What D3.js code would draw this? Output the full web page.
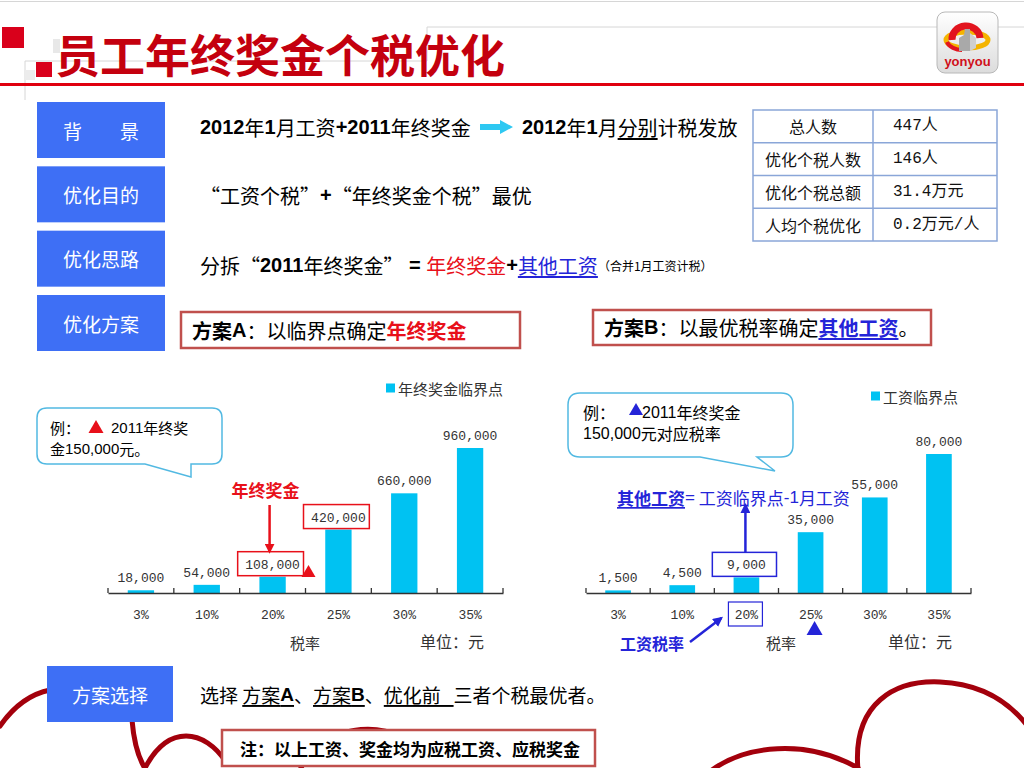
<!DOCTYPE html>
<html><head><meta charset="utf-8">
<script src="https://cdn.jsdelivr.net/npm/d3@7"></script>
<style>
html,body{margin:0;padding:0;background:#fff;overflow:hidden;}
svg{display:block;font-family:"Noto Sans CJK SC","Noto Sans",sans-serif;}
</style></head><body>
<div id="slide"></div>
<script>
// ---- data ----
const rateLabels   = ["3%", "10%", "20%", "25%", "30%", "35%"];
const bonusPoints  = [18000, 54000, 108000, 420000, 660000, 960000];
const salaryPoints = [1500, 4500, 9000, 35000, 55000, 80000];
const sideLabels   = ["背　　景", "优化目的", "优化思路", "优化方案"];
const tableLabels  = ["总人数", "优化个税人数", "优化个税总额", "人均个税优化"];
const tableValues  = ["447人", "146人", "31.4万元", "0.2万元/人"];

const W = 1024, H = 768;
const BLUE_BOX = "#3e6ff5";
const CYAN = "#00c2f2";
const RED = "#e8101a";
const INK_BLUE = "#2424d8";
const BOX_RED = "#c0504d";
const DARK_RED = "#a3000c";
const MONO = "'Liberation Mono', 'Noto Sans CJK SC', monospace";
const SANS = "'Liberation Sans', 'Noto Sans CJK SC', sans-serif";

const svg = d3.select("#slide").append("svg")
  .attr("width", W).attr("height", H);
const defs = svg.append("defs");

function marker(id, color) {
  defs.append("marker").attr("id", id)
    .attr("viewBox", "0 0 10 10").attr("refX", 8).attr("refY", 5)
    .attr("markerWidth", 4).attr("markerHeight", 4).attr("orient", "auto")
    .append("path").attr("d", "M0,0 L10,5 L0,10 Z").attr("fill", color);
}
marker("arrRed", RED);
marker("arrBlue", INK_BLUE);

function rich(x, y, parts, size, extra) {
  const t = svg.append("text").attr("x", x).attr("y", y)
    .attr("font-size", size).attr("dominant-baseline", "central")
    .style("white-space", "pre");
  if (extra) extra(t);
  parts.forEach(p => {
    const s = t.append("tspan").text(p.t);
    if (p.c) s.attr("fill", p.c);
    if (p.b) s.attr("font-weight", "bold");
    if (p.u) s.style("text-decoration", "underline");
    if (p.f) s.attr("font-family", p.f);
    if (p.s) s.attr("font-size", p.s);
  });
  return t;
}

// ---- decorative curves at the bottom ----
const curves = [
  "M0,726 C14,706 30,694 50,690",
  "M132,720 C134,744 138,758 146,770",
  "M144,770 C168,722 205,730 226,762",
  "M300,770 C322,722 385,722 410,742",
  "M712,770 C745,746 805,738 858,768",
  "M858,770 C852,702 896,680 940,682 C984,684 1010,704 1026,724"
];
svg.selectAll("path.deco").data(curves).join("path")
  .attr("class", "deco").attr("d", d => d)
  .attr("fill", "none").attr("stroke", DARK_RED).attr("stroke-width", 5)
  .attr("stroke-linecap", "round");

// ---- header ----
const faint = [[0, 1.5, W, 1.5], [427, 27, W, 27], [427, 27, 427, 61], [25, 61, 427, 61], [25, 61, 25, 100]];
svg.selectAll("line.faint").data(faint).join("line")
  .attr("x1", d => d[0]).attr("y1", d => d[1]).attr("x2", d => d[2]).attr("y2", d => d[3])
  .attr("stroke", "#d6d6d6").attr("stroke-width", 1);

svg.append("rect").attr("x", 53).attr("y", 39).attr("width", 7).attr("height", 14).attr("fill", "#e8e8e8");
svg.append("rect").attr("x", 25).attr("y", 70).attr("width", 10).attr("height", 10).attr("fill", "#ececec");
svg.append("rect").attr("x", 2).attr("y", 27).attr("width", 22).attr("height", 21).attr("fill", "#d9001b");
svg.append("rect").attr("x", 36).attr("y", 62).attr("width", 16).attr("height", 15).attr("fill", "#d9001b");

svg.append("text").attr("x", 55).attr("y", 73)
  .attr("font-size", 45).attr("font-weight", "bold").attr("fill", "#c4000e")
  .text("员工年终奖金个税优化");

svg.append("line").attr("x1", 0).attr("x2", W).attr("y1", 84.5).attr("y2", 84.5)
  .attr("stroke", "#e0000f").attr("stroke-width", 3);

// logo
const lg = defs.append("linearGradient").attr("id", "logoGrad")
  .attr("x1", "0%").attr("x2", "0%").attr("y1", "0%").attr("y2", "100%");
lg.append("stop").attr("offset", "0%").attr("stop-color", "#ffffff");
lg.append("stop").attr("offset", "100%").attr("stop-color", "#dcdcdc");
const logo = svg.append("g");
logo.append("rect").attr("x", 937).attr("y", 12).attr("width", 61).attr("height", 61).attr("rx", 8)
  .attr("fill", "url(#logoGrad)").attr("stroke", "#b8b8b8");
logo.append("ellipse").attr("cx", 967).attr("cy", 40).attr("rx", 21).attr("ry", 8)
  .attr("fill", "none").attr("stroke", "#f4b400").attr("stroke-width", 5);
logo.append("path").attr("d", "M952,40 A14,13 0 0 1 980,38")
  .attr("fill", "none").attr("stroke", "#e2141e").attr("stroke-width", 7);
logo.append("path").attr("d", "M947,42 C949,47 956,50 962,50")
  .attr("fill", "none").attr("stroke", "#e2141e").attr("stroke-width", 4);
logo.append("path").attr("d", "M959,51 L959,38 L964,35 L965,29 L970,29 L970,51 Z").attr("fill", "#a9a9a9");
logo.append("path").attr("d", "M970,51 L970,33 L976,38 L976,48 Z").attr("fill", "#cfcfcf");
logo.append("text").attr("x", 967.5).attr("y", 66).attr("text-anchor", "middle")
  .attr("font-family", SANS).attr("font-weight", "bold").attr("font-size", 13)
  .attr("fill", "#d0101a").text("yonyou");

// ---- side boxes ----
const sideY = d3.scaleLinear().domain([0, 3]).range([102, 295]);
const side = svg.selectAll("g.side").data(sideLabels).join("g")
  .attr("transform", (d, i) => `translate(37,${sideY(i)})`);
side.append("rect").attr("width", 128).attr("height", 56).attr("fill", BLUE_BOX);
side.append("text").attr("x", 64).attr("y", 28).attr("text-anchor", "middle")
  .attr("dominant-baseline", "central").attr("font-size", 19).attr("fill", "#fff")
  .style("white-space", "pre").text(d => d);

// ---- row texts ----
rich(200, 127, [
  { t: "2012", b: 1, f: SANS }, { t: "年" }, { t: "1", b: 1, f: SANS }, { t: "月工资" },
  { t: "+2011", b: 1, f: SANS }, { t: "年终奖金" }
], 20);
svg.append("path").attr("d", "M480,124 H500 V120 L513,127 L500,134 V130 H480 Z").attr("fill", "#2ec8f2");
rich(522, 127, [
  { t: "2012", b: 1, f: SANS }, { t: "年" }, { t: "1", b: 1, f: SANS }, { t: "月" },
  { t: "分别", u: 1 }, { t: "计税发放" }
], 20);

rich(200, 195, [
  { t: "“工资个税”" }, { t: "+", b: 1, f: SANS }, { t: "“年终奖金个税”最优" }
], 20);

rich(200, 265, [
  { t: "分拆“" }, { t: "2011", b: 1, f: SANS }, { t: "年终奖金”" },
  { t: " = ", b: 1, f: SANS }, { t: "年终奖金", c: RED }, { t: "+", b: 1, f: SANS },
  { t: "其他工资", c: INK_BLUE, u: 1 }, { t: "（合并1月工资计税）", s: 12 }
], 20);

// plan boxes
svg.append("rect").attr("x", 181).attr("y", 312).attr("width", 339).attr("height", 36)
  .attr("fill", "#fff").attr("stroke", BOX_RED).attr("stroke-width", 2.5);
rich(192, 330, [
  { t: "方案", b: 1 }, { t: "A", b: 1, f: SANS }, { t: "：以临界点确定" }, { t: "年终奖金", b: 1, c: RED }
], 20);
svg.append("rect").attr("x", 593).attr("y", 310).attr("width", 338).attr("height", 35)
  .attr("fill", "#fff").attr("stroke", BOX_RED).attr("stroke-width", 2.5);
rich(604, 327, [
  { t: "方案", b: 1 }, { t: "B", b: 1, f: SANS }, { t: "：以最优税率确定" },
  { t: "其他工资", b: 1, c: INK_BLUE, u: 1 }, { t: "。" }
], 20);

// ---- summary table ----
const rowY = d3.scaleLinear().domain([0, 4]).range([110, 241]);
const tbl = svg.append("g");
tbl.append("rect").attr("x", 753).attr("y", 110).attr("width", 244).attr("height", 131)
  .attr("fill", "#fff").attr("stroke", "#8aa6d8").attr("stroke-width", 1.5);
tbl.selectAll("line.row").data([1, 2, 3]).join("line")
  .attr("x1", 753).attr("x2", 997).attr("y1", d => rowY(d)).attr("y2", d => rowY(d))
  .attr("stroke", "#8aa6d8").attr("stroke-width", 1.5);
tbl.append("line").attr("x1", 873).attr("x2", 873).attr("y1", 110).attr("y2", 241)
  .attr("stroke", "#8aa6d8").attr("stroke-width", 1.5);
tbl.selectAll("text.lab").data(tableLabels).join("text")
  .attr("x", 813).attr("y", (d, i) => (rowY(i) + rowY(i + 1)) / 2)
  .attr("text-anchor", "middle").attr("dominant-baseline", "central")
  .attr("font-size", 16).attr("fill", "#111").text(d => d);
tbl.selectAll("text.val").data(tableValues).join("text")
  .attr("x", 893).attr("y", (d, i) => (rowY(i) + rowY(i + 1)) / 2)
  .attr("dominant-baseline", "central").attr("font-family", MONO)
  .attr("font-size", 16).attr("fill", "#111").text(d => d);

// ---- bar charts ----
const fmt = d3.format(",");
function barChart(opt) {
  const g = svg.append("g");
  const x = d3.scaleBand().domain(rateLabels).range([opt.x0, opt.x1]);
  const y = d3.scaleLinear().domain([0, opt.max]).range([opt.base, opt.top]);
  const bw = x.bandwidth(), barW = bw * 0.4;

  g.selectAll("rect.bar").data(opt.values).join("rect")
    .attr("x", (d, i) => x(rateLabels[i]) + (bw - barW) / 2)
    .attr("y", d => y(d)).attr("width", barW)
    .attr("height", d => opt.base - y(d)).attr("fill", CYAN);

  const ag = g.append("g").attr("transform", `translate(0,${opt.base})`)
    .call(d3.axisBottom(x).tickSize(0).tickSizeOuter(0).tickPadding(17));
  ag.select(".domain").attr("stroke", "#333").attr("stroke-width", 1.5);
  ag.selectAll("text").attr("font-family", MONO).attr("font-size", 13).attr("fill", "#333");

  const bounds = rateLabels.map(r => x(r)).concat([opt.x1]);
  g.selectAll("line.tk").data(bounds).join("line")
    .attr("x1", d => d).attr("x2", d => d)
    .attr("y1", opt.base - 5).attr("y2", opt.base)
    .attr("stroke", "#333").attr("stroke-width", 1.3);

  g.selectAll("text.val").data(opt.values).join("text")
    .attr("x", (d, i) => x(rateLabels[i]) + bw / 2)
    .attr("y", d => y(d) - 8).attr("text-anchor", "middle")
    .attr("font-family", MONO).attr("font-size", 13).attr("fill", "#333")
    .text(d => fmt(d));

  opt.boxed.forEach(i => {
    g.append("rect").attr("x", x(rateLabels[i]) - 2).attr("y", y(opt.values[i]) - 25)
      .attr("width", bw).attr("height", 24)
      .attr("fill", "none").attr("stroke", opt.boxColor).attr("stroke-width", 1.5);
  });

  g.append("rect").attr("x", opt.legendX).attr("y", opt.legendY - 4.5)
    .attr("width", 9).attr("height", 9).attr("fill", CYAN);
  g.append("text").attr("x", opt.legendX + 12).attr("y", opt.legendY)
    .attr("dominant-baseline", "central").attr("font-size", 15).attr("fill", "#333")
    .text(opt.legend);

  g.append("text").attr("x", opt.axisTitleX).attr("y", 642).attr("text-anchor", "middle")
    .attr("dominant-baseline", "central").attr("font-size", 15).attr("fill", "#333").text("税率");
  g.append("text").attr("x", opt.unitX).attr("y", 641).attr("text-anchor", "middle")
    .attr("dominant-baseline", "central").attr("font-size", 16).attr("fill", "#333").text("单位：元");
  return { x, y, bw };
}

function callout(x0, y0, x1, y1, tailL, tailR, tip, r) {
  const d = `M${x0 + r},${y0} H${x1 - r} Q${x1},${y0} ${x1},${y0 + r} V${y1 - r} Q${x1},${y1} ${x1 - r},${y1}` +
    ` H${tailR} L${tip[0]},${tip[1]} L${tailL},${y1} H${x0 + r} Q${x0},${y1} ${x0},${y1 - r} V${y0 + r} Q${x0},${y0} ${x0 + r},${y0} Z`;
  svg.append("path").attr("d", d).attr("fill", "#fff").attr("stroke", "#52b9e2").attr("stroke-width", 1.5);
}

function triangle(cx, baseY, h, color) {
  svg.append("path").attr("d", `M${cx - h / 2 - 1},${baseY} L${cx},${baseY - h} L${cx + h / 2 + 1},${baseY} Z`).attr("fill", color);
}

// left chart: bonus critical points
const c1 = barChart({
  x0: 108, x1: 503, base: 593, top: 448, max: 960000, values: bonusPoints,
  boxed: [2, 3], boxColor: RED, legend: "年终奖金临界点", legendX: 386, legendY: 388,
  axisTitleX: 305, unitX: 452
});
callout(37, 408, 222, 464, 145, 191, [191, 477], 10);
rich(50, 427, [{ t: "例：" }], 15);
triangle(96, 433, 13, RED);
rich(111, 427, [{ t: "2011", f: SANS }, { t: "年终奖" }], 15);
rich(50, 448, [{ t: "金" }, { t: "150,000", f: SANS }, { t: "元。" }], 15);

const mid20 = c1.x("20%") + c1.bw / 2;
svg.append("text").attr("x", mid20 - 7).attr("y", 489).attr("text-anchor", "middle")
  .attr("dominant-baseline", "central").attr("font-size", 17).attr("font-weight", "bold")
  .attr("fill", RED).text("年终奖金");
svg.append("line").attr("x1", mid20 - 3).attr("x2", mid20 - 3)
  .attr("y1", 505).attr("y2", c1.y(bonusPoints[2]) - 25)
  .attr("stroke", RED).attr("stroke-width", 2.5).attr("marker-end", "url(#arrRed)");
triangle(c1.x("25%") + 3, 577, 12, RED);

// right chart: salary critical points
const c2 = barChart({
  x0: 586, x1: 971, base: 593, top: 454, max: 80000, values: salaryPoints,
  boxed: [2], boxColor: INK_BLUE, legend: "工资临界点", legendX: 871, legendY: 396,
  axisTitleX: 781, unitX: 920
});
callout(568, 393, 793, 457, 700, 757, [775, 471], 12);
rich(583, 412, [{ t: "例：" }], 16);
triangle(636, 415, 12, INK_BLUE);
rich(642, 412, [{ t: "2011", f: SANS }, { t: "年终奖金" }], 16);
rich(583, 433, [{ t: "150,000", f: SANS }, { t: "元对应税率" }], 16);

rich(617, 497, [
  { t: "其他工资", b: 1, u: 1 }, { t: "=", f: SANS }, { t: " 工资临界点" }, { t: "-1", f: SANS }, { t: "月工资" }
], 17, t => t.attr("fill", INK_BLUE));

const mid20b = c2.x("20%") + c2.bw / 2;
svg.append("line").attr("x1", mid20b - 1).attr("x2", mid20b - 1)
  .attr("y1", c2.y(salaryPoints[2]) - 25).attr("y2", 505)
  .attr("stroke", INK_BLUE).attr("stroke-width", 2.5).attr("marker-end", "url(#arrBlue)");
svg.append("rect").attr("x", mid20b - 18).attr("y", 602).attr("width", 34).attr("height", 24)
  .attr("fill", "none").attr("stroke", INK_BLUE).attr("stroke-width", 1.2);
svg.append("text").attr("x", 620).attr("y", 643).attr("dominant-baseline", "central")
  .attr("font-size", 16).attr("font-weight", "bold").attr("fill", INK_BLUE).text("工资税率");
svg.append("line").attr("x1", 690).attr("y1", 642).attr("x2", mid20b - 25).attr("y2", 618)
  .attr("stroke", INK_BLUE).attr("stroke-width", 2.5).attr("marker-end", "url(#arrBlue)");
triangle(c2.x("25%") + c2.bw / 2 + 4, 635, 14, INK_BLUE);

// ---- bottom ----
svg.append("rect").attr("x", 47).attr("y", 666).attr("width", 126).attr("height", 56).attr("fill", BLUE_BOX);
svg.append("text").attr("x", 110).attr("y", 694).attr("text-anchor", "middle")
  .attr("dominant-baseline", "central").attr("font-size", 19).attr("fill", "#fff").text("方案选择");

rich(200, 694, [
  { t: "选择 " }, { t: "方案", u: 1 }, { t: "A", u: 1, b: 1, f: SANS }, { t: "、" },
  { t: "方案", u: 1 }, { t: "B", u: 1, b: 1, f: SANS }, { t: "、" },
  { t: "优化前   ", u: 1 }, { t: "三者个税最优者。" }
], 19);

svg.append("rect").attr("x", 222).attr("y", 730).attr("width", 373).attr("height", 36)
  .attr("fill", "#fff").attr("stroke", BOX_RED).attr("stroke-width", 2.5);
rich(240, 748, [{ t: "注：以上工资、奖金均为应税工资、应税奖金", b: 1 }], 17);
</script>
</body></html>
